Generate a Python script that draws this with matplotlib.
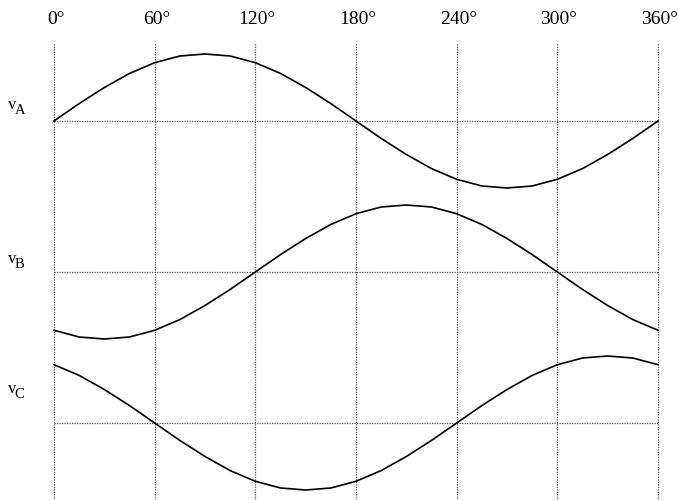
import numpy as np
import matplotlib.pyplot as plt

plt.rcParams['font.family'] = 'Liberation Serif'

# angle in degrees, sampled every 15 degrees
angle = [0, 15, 30, 45, 60, 75, 90, 105, 120, 135, 150, 165, 180,
         195, 210, 225, 240, 255, 270, 285, 300, 315, 330, 345, 360]

v_a = [0, .26, .5, .71, .87, .97, 1, .97, .87, .71, .5, .26, 0,
       -.26, -.5, -.71, -.87, -.97, -1, -.97, -.87, -.71, -.5, -.26, 0]
v_b = [-.87, -.97, -1, -.97, -.87, -.71, -.5, -.26, 0, .26, .5, .71, .87,
       .97, 1, .97, .87, .71, .5, .26, 0, -.26, -.5, -.71, -.87]
v_c = [.87, .71, .5, .26, 0, -.26, -.5, -.71, -.87, -.97, -1, -.97, -.87,
       -.71, -.5, -.26, 0, .26, .5, .71, .87, .97, 1, .97, .87]

tick_angles = [0, 60, 120, 180, 240, 300, 360]
names = ['A', 'B', 'C']

# vertical offset of each trace (one unit = amplitude, 67 px)
px = 1 / 67
offsets = [0, -151 * px, -302 * px]
label_dy = [12 * px, 9 * px, 30 * px]

fig = plt.figure(figsize=(6.78, 5.0), dpi=100)
ax = fig.add_axes([0, 0, 1, 1])
ax.set_xlim(-54 / 1.6778, 624 / 1.6778)
ax.set_ylim(-379 * px, 121 * px)
ax.axis('off')

grid_top = (121 - 43) * px
dot = dict(color='0.35', linewidth=0.9, linestyle=(0, (1, 1)))

for a in tick_angles:
    ax.plot([a, a], [ax.get_ylim()[0], grid_top], **dot)
    ax.text(a + 1, (121 - 20) * px, '%d°' % a, ha='center', va='center',
            fontsize=14)

for vals, off, name, dy in zip([v_a, v_b, v_c], offsets, names, label_dy):
    ax.plot([0, 360], [off, off], **dot)
    ax.plot(angle, np.array(vals) + off, color='black', linewidth=1.2)
    ax.text(-27.6, off + dy, 'v', ha='left', va='baseline', fontsize=12)
    ax.text(-23.4, off + dy - 5 * px, name, ha='left', va='baseline',
            fontsize=10.5)

fig.savefig('out.png', dpi=100)
